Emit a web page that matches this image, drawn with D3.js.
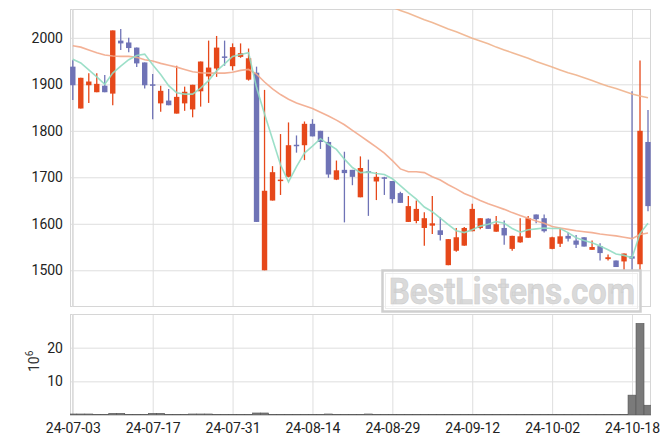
<!DOCTYPE html>
<html><head><meta charset="utf-8">
<script src="https://cdn.jsdelivr.net/npm/d3@7/dist/d3.min.js"></script>
<style>
body{margin:0;background:#fff}
svg{display:block}
text{font-family:Roboto,"Noto Sans",sans-serif}
</style>
</head><body>
<svg id="chart" width="671" height="444"></svg>
<script>
const dates = ["24-07-03","24-07-04","24-07-05","24-07-08","24-07-09","24-07-10","24-07-11","24-07-12","24-07-15","24-07-16",
"24-07-17","24-07-18","24-07-19","24-07-22","24-07-23","24-07-24","24-07-25","24-07-26","24-07-29","24-07-30",
"24-07-31","24-08-01","24-08-02","24-08-05","24-08-06","24-08-07","24-08-08","24-08-09","24-08-12","24-08-13",
"24-08-14","24-08-16","24-08-19","24-08-20","24-08-21","24-08-22","24-08-23","24-08-26","24-08-27","24-08-28",
"24-08-29","24-08-30","24-09-02","24-09-03","24-09-04","24-09-05","24-09-06","24-09-09","24-09-10","24-09-11",
"24-09-12","24-09-13","24-09-19","24-09-20","24-09-23","24-09-24","24-09-25","24-09-26","24-09-27","24-09-30",
"24-10-02","24-10-04","24-10-07","24-10-08","24-10-10","24-10-11","24-10-14","24-10-15","24-10-16","24-10-17",
"24-10-18","24-10-21","24-10-22"];

const open = [1938,1848,1898,1883,1897,1880,1994,1990,1979,1947,
1900,1859,1865,1837,1859,1846,1885,1917,1934,1960,
1939,1959,1910,1925,1500,1650,1693,1701,1770,1769,
1815,1800,1776,1695,1716,1716,1657,1713,1691,1700,
1692,1666,1604,1606,1591,1596,1586,1511,1542,1553,
1584,1591,1611,1583,1591,1546,1560,1570,1620,1612,
1546,1557,1574,1564,1571,1544,1552,1524,1521,1519,
1530,1513,1776];

const high = [1952,1914,1924,1924,1920,2016,2019,2000,1979,1947,
1922,1897,1890,1940,1895,1899,1949,1994,2004,1994,
1988,1988,1977,1938,1888,1724,1793,1818,1790,1820,
1825,1800,1787,1736,1755,1716,1745,1738,1711,1701,
1692,1669,1660,1650,1625,1660,1614,1567,1591,1593,
1643,1612,1612,1617,1607,1574,1612,1617,1620,1620,
1572,1589,1581,1576,1571,1564,1558,1534,1521,1536,
1885,1951,1845];

const low = [1866,1848,1860,1883,1883,1855,1974,1969,1937,1891,
1825,1841,1855,1837,1843,1829,1852,1860,1916,1940,
1930,1957,1908,1604,1500,1650,1662,1700,1753,1737,
1788,1761,1699,1694,1603,1683,1657,1617,1651,1662,
1644,1645,1604,1601,1553,1578,1564,1511,1540,1553,
1584,1588,1589,1583,1555,1542,1559,1570,1601,1581,
1545,1550,1562,1548,1551,1544,1521,1521,1507,1499,
1500,1500,1627];

const close = [1898,1914,1906,1901,1883,2016,1988,1978,1945,1898,
1899,1886,1855,1873,1884,1899,1949,1936,1979,1958,
1980,1967,1956,1604,1671,1711,1695,1769,1768,1815,
1788,1776,1706,1715,1709,1701,1720,1711,1701,1699,
1653,1645,1638,1632,1612,1601,1576,1567,1571,1591,
1632,1612,1589,1599,1575,1574,1573,1612,1610,1584,
1571,1573,1568,1555,1551,1550,1537,1528,1507,1536,
1525,1800,1638];

// volume in millions
const volume = [0.3,0.3,0.3,0.1,0.1,0.5,0.5,0.1,0.1,0.1,
0.5,0.5,0.1,0.1,0.1,0.3,0.3,0.3,0.1,0.1,
0.1,0.1,0.1,0.6,0.6,0.1,0.1,0.1,0.1,0.1,
0.1,0.1,0.3,0.1,0.1,0.1,0.1,0.3,0.1,0.1,
0.1,0.1,0.1,0.1,0.1,0.1,0.1,0.1,0.1,0.1,
0.1,0.1,0.1,0.1,0.1,0.1,0.1,0.1,0.1,0.1,
0.1,0.1,0.1,0.1,0.1,0.1,0.1,0.1,0.1,0.1,
5.9,27.2,2.9];

const ma5 = [1954,1946,1931,1916,1900,1924,1939,1953,1962,1965,
1942,1921,1897,1882,1879,1879,1892,1908,1929,1944,
1960,1964,1968,1893,1836,1782,1727,1690,1723,1752,
1767,1783,1771,1760,1739,1721,1710,1711,1708,1706,
1697,1682,1667,1653,1636,1626,1612,1598,1585,1581,
1587,1595,1599,1605,1601,1590,1582,1587,1589,1591,
1590,1590,1581,1570,1564,1559,1552,1544,1535,1532,
1527,1579,1601];

const ma20 = [1983,1980,1974,1968,1963,1961,1960,1960,1958,1953,
1950,1945,1941,1937,1932,1927,1925,1924,1924,1924,
1926,1930,1932,1922,1905,1890,1878,1868,1860,1854,
1848,1840,1832,1823,1813,1801,1789,1777,1765,1752,
1736,1718,1712,1712,1710,1701,1694,1684,1675,1665,
1658,1650,1643,1637,1631,1624,1618,1612,1606,1601,
1594,1591,1588,1585,1583,1581,1578,1576,1574,1571,
1568,1577,1580];

const ma60 = [null,null,null,null,null,null,null,null,null,null,
null,null,null,null,null,null,null,null,null,null,
null,null,null,null,null,null,null,null,null,null,
null,null,null,null,null,null,null,null,2079,2073,
2066,2059,2053,2046,2039,2033,2026,2019,2013,2006,
1999,1993,1987,1980,1974,1968,1962,1956,1949,1943,
1937,1931,1925,1920,1914,1908,1902,1896,1891,1885,
1879,1875,1871];

const priceTicks = [1500,1600,1700,1800,1900,2000];
const volumeTicks = [10,20,30];
const volumeTickLabels = [10,20];
const dateTicks = ["24-07-03","24-07-17","24-07-31","24-08-14","24-08-29","24-09-12","24-10-02","24-10-18"];

const UP = "#e6481a", DOWN = "#6f73b6";
const L = 70, R = 651, T = 9, B = 307, VT = 314, VB = 415;

const svg = d3.select("#chart");
svg.append("rect").attr("width",671).attr("height",444).attr("fill","#fff");

const x = d3.scalePoint().domain(dates).range([72.8, 648]);
const yP = d3.scaleLinear().domain([1421, 2062]).range([B, T]);
const yV = d3.scaleLinear().domain([0, 30]).range([VB, VT]);

const defs = svg.append("defs");
defs.append("clipPath").attr("id","clipMain").append("rect").attr("x",L).attr("y",T).attr("width",R-L).attr("height",B-T);
defs.append("clipPath").attr("id","clipVol").append("rect").attr("x",L).attr("y",VT).attr("width",R-L).attr("height",VB-VT);

const gridColor = "#dedede";

// --- main panel grid ---
const gMainGrid = svg.append("g");
gMainGrid.append("g").attr("transform",`translate(0,${B})`)
  .call(d3.axisBottom(x).tickValues(dateTicks).tickSize(-(B-T)).tickFormat(""))
  .call(g=>{g.select(".domain").remove(); g.selectAll("line").attr("stroke",gridColor);});
gMainGrid.append("g").attr("transform",`translate(${L},0)`)
  .call(d3.axisLeft(yP).tickValues(priceTicks).tickSize(-(R-L)).tickPadding(7).tickFormat(d3.format("d")))
  .call(g=>{g.select(".domain").remove(); g.selectAll("line").attr("stroke",gridColor);
    g.selectAll("text").attr("fill","#222").style("font-size","14px").style("font-family","Roboto");});
svg.append("rect").attr("x",L+0.5).attr("y",T+0.5).attr("width",R-L-1).attr("height",B-T-1)
  .attr("fill","none").attr("stroke","#d6d6d6");
svg.append("line").attr("x1",L+2.5).attr("x2",L+2.5).attr("y1",T).attr("y2",B).attr("stroke","#dcdcdc");

// --- volume panel grid ---
const gVolGrid = svg.append("g");
gVolGrid.append("g").attr("transform",`translate(0,${VB})`)
  .call(d3.axisBottom(x).tickValues(dateTicks).tickSize(-(VB-VT)).tickPadding(8).tickFormat(d=>d))
  .call(g=>{g.select(".domain").remove(); g.selectAll("line").attr("stroke",gridColor);
    g.selectAll("text").attr("fill","#222").style("font-size","14px").style("font-family","Roboto");});
gVolGrid.append("g").attr("transform",`translate(${L},0)`)
  .call(d3.axisLeft(yV).tickValues(volumeTicks).tickSize(-(R-L)).tickPadding(7)
    .tickFormat(d=>volumeTickLabels.includes(d)?d:""))
  .call(g=>{g.select(".domain").remove(); g.selectAll("line").attr("stroke",gridColor);
    g.selectAll("text").attr("fill","#222").style("font-size","14px").style("font-family","Roboto");});
svg.append("rect").attr("x",L+0.5).attr("y",VT+0.5).attr("width",R-L-1).attr("height",VB-VT-1)
  .attr("fill","none").attr("stroke","#d6d6d6");
svg.append("line").attr("x1",L+2.5).attr("x2",L+2.5).attr("y1",VT).attr("y2",VB).attr("stroke","#dcdcdc");
svg.append("line").attr("x1",L).attr("x2",R).attr("y1",VB+0.5).attr("y2",VB+0.5).attr("stroke","#cfcfcf");

// 10^6 label
const unit = svg.append("text").attr("transform","translate(39,372) rotate(-90)")
  .attr("fill","#333").style("font-size","14px");
unit.append("tspan").text("10");
unit.append("tspan").attr("dy",-6).style("font-size","10px").text("6");

// --- volume bars ---
const step = x.step();
svg.append("g").attr("clip-path","url(#clipVol)")
  .selectAll("rect").data(dates).join("rect")
  .attr("x",(d)=>x(d)-step/2)
  .attr("width",step)
  .attr("y",(d,i)=>yV(volume[i]))
  .attr("height",(d,i)=>yV(0)-yV(volume[i]))
  .attr("fill","#7a7a7a").attr("stroke","#555").attr("stroke-width",0.6);

// --- candles ---
const gC = svg.append("g").attr("clip-path","url(#clipMain)");
const bw = 5.4;
gC.selectAll("line.wick").data(dates).join("line").attr("class","wick")
  .attr("x1",d=>x(d)).attr("x2",d=>x(d))
  .attr("y1",(d,i)=>yP(high[i])).attr("y2",(d,i)=>yP(low[i]))
  .attr("stroke",(d,i)=>close[i]>=open[i]?UP:DOWN).attr("stroke-width",1.3);
gC.selectAll("rect.body").data(dates).join("rect").attr("class","body")
  .attr("x",d=>x(d)-bw/2).attr("width",bw)
  .attr("y",(d,i)=>yP(Math.max(open[i],close[i])))
  .attr("height",(d,i)=>Math.max(1.5,Math.abs(yP(open[i])-yP(close[i]))))
  .attr("fill",(d,i)=>close[i]>=open[i]?UP:DOWN);

// --- moving averages ---
const gL = svg.append("g").attr("clip-path","url(#clipMain)");
function ma(arr,color,w){
  const line = d3.line().defined(v=>v!=null).x((v,i)=>x(dates[i])).y(v=>yP(v));
  gL.append("path").attr("d",line(arr)).attr("fill","none").attr("stroke",color)
    .attr("stroke-width",w).attr("stroke-opacity",0.9);
}
ma(ma60,"#efb38c",1.6);
ma(ma20,"#f2a98b",1.6);
ma(ma5,"#91dcc2",1.6);

// --- watermark ---
const wm = svg.append("g");
wm.append("rect").attr("x",382.5).attr("y",270.5).attr("width",258).attr("height",41)
  .attr("fill","#fff").attr("fill-opacity",0.75).attr("stroke","#cfcfcf").attr("stroke-width",2.5);
wm.append("rect").attr("x",385.5).attr("y",273.5).attr("width",252).attr("height",35)
  .attr("fill","none").attr("stroke","#ececec").attr("stroke-width",1);
wm.append("text").attr("x",389).attr("y",304).attr("textLength",246).attr("lengthAdjust","spacingAndGlyphs")
  .style("font-size","36px").style("font-weight","bold").style("font-family","Roboto")
  .attr("fill","#dadada").attr("stroke","#cdcdcd").attr("stroke-width",0.6).text("BestListens.com");
</script>
</body></html>
